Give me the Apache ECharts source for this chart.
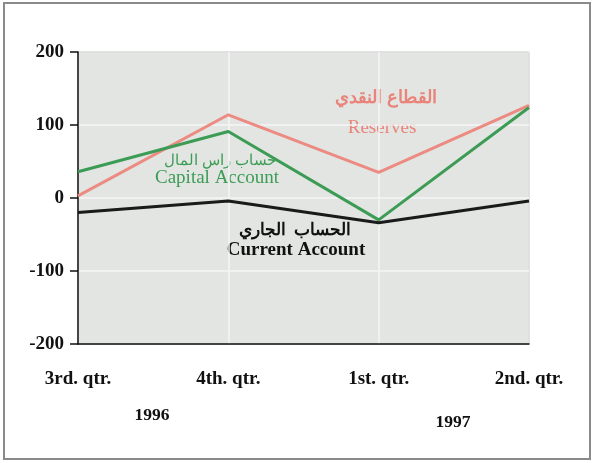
<!DOCTYPE html>
<html>
<head>
<meta charset="utf-8">
<script src="https://cdn.jsdelivr.net/npm/echarts@6/dist/echarts.min.js"></script>
<style>
  html, body { margin: 0; padding: 0; background: #fff; }
  #chart { width: 594px; height: 463px; }
</style>
</head>
<body>
<div id="chart"></div>
<script>
var quarters = ['3rd. qtr.', '4th. qtr.', '1st. qtr.', '2nd. qtr.'];
var reserves = [3, 114, 35, 127];
var capitalAccount = [36, 91, -30, 124];
var currentAccount = [-20, -4, -34, -4];
var yTicks = [-200, -100, 0, 100, 200];

var serif = '"Liberation Serif", "DejaVu Serif", serif';
var myChart = echarts.init(document.getElementById('chart'));

function seriesLine(name, data, color) {
  return {
    name: name,
    type: 'line',
    data: data,
    symbol: 'none',
    lineStyle: { color: color, width: 3 },
    z: 3
  };
}

var option = {
  backgroundColor: '#ffffff',
  animation: false,
  grid: {
    left: 78,
    right: 65,
    top: 52,
    bottom: 119,
    show: true,
    backgroundColor: '#e3e5e3',
    borderColor: '#555',
    borderWidth: 1
  },
  xAxis: {
    type: 'category',
    data: quarters,
    boundaryGap: false,
    axisLine: { onZero: false, lineStyle: { color: '#111', width: 1.5 } },
    axisTick: { show: false },
    axisLabel: {
      margin: 26,
      color: '#111',
      fontFamily: serif,
      fontWeight: 'bold',
      fontSize: 19
    },
    splitLine: { show: true, lineStyle: { color: '#f4f4f4', width: 1.5 } }
  },
  yAxis: {
    type: 'value',
    min: yTicks[0],
    max: yTicks[yTicks.length - 1],
    interval: 100,
    axisLine: { show: true, lineStyle: { color: '#111', width: 1.5 } },
    axisTick: { show: true, length: 8, lineStyle: { color: '#111', width: 1.5 } },
    axisLabel: {
      margin: 14,
      color: '#111',
      fontFamily: serif,
      fontWeight: 'bold',
      fontSize: 19
    },
    splitLine: { show: true, lineStyle: { color: '#f4f4f4', width: 1.5 } }
  },
  series: [
    seriesLine('Reserves', reserves, '#ec8b82'),
    seriesLine('Capital Account', capitalAccount, '#3c9c55'),
    seriesLine('Current Account', currentAccount, '#1a1a1a')
  ],
  graphic: [
    {
      type: 'rect',
      shape: { x: 4, y: 3, width: 586, height: 456 },
      style: { fill: 'none', stroke: '#8a8a8a', lineWidth: 2 },
      silent: true
    },
    {
      type: 'text', x: 386, y: 98,
      style: { text: 'القطاع النقدي', fill: '#e8847a', font: 'bold 18px ' + serif, align: 'center', verticalAlign: 'middle' }
    },
    {
      type: 'text', x: 382, y: 128,
      style: { text: 'Reserves', fill: '#e8847a', font: '19px ' + serif, align: 'center', verticalAlign: 'middle' }
    },
    {
      type: 'text', x: 220, y: 161,
      style: { text: 'حساب راس المال', fill: '#3c9c55', font: '14.5px ' + serif, align: 'center', verticalAlign: 'middle' }
    },
    {
      type: 'text', x: 217, y: 178,
      style: { text: 'Capital Account', fill: '#3c9c55', font: '19px ' + serif, align: 'center', verticalAlign: 'middle' }
    },
    {
      type: 'text', x: 295, y: 231,
      style: { text: 'الحساب  الجاري', fill: '#111', font: 'bold 17px ' + serif, align: 'center', verticalAlign: 'middle' }
    },
    {
      type: 'text', x: 296, y: 250,
      style: { text: 'Current Account', fill: '#111', font: 'bold 19px ' + serif, align: 'center', verticalAlign: 'middle' }
    },
    {
      type: 'text', x: 152, y: 415,
      style: { text: '1996', fill: '#111', font: 'bold 17.5px ' + serif, align: 'center', verticalAlign: 'middle' }
    },
    {
      type: 'text', x: 453, y: 422,
      style: { text: '1997', fill: '#111', font: 'bold 17.5px ' + serif, align: 'center', verticalAlign: 'middle' }
    }
  ]
};

myChart.setOption(option);
</script>
</body>
</html>
